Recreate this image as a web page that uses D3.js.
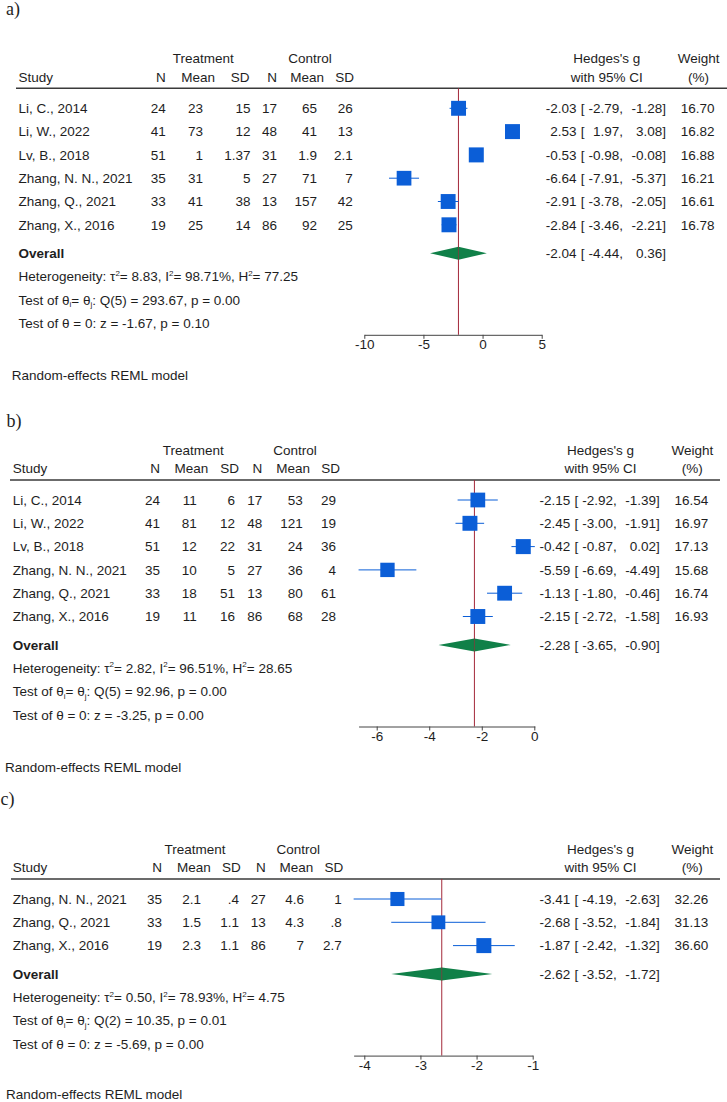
<!DOCTYPE html>
<html>
<head>
<meta charset="utf-8">
<script src="https://cdn.jsdelivr.net/npm/d3@7/dist/d3.min.js"></script>
<style>
  body { margin: 0; background: #fff; }
  text { font-family: "Liberation Sans", Arial, sans-serif; fill: #1e1e1e; }
</style>
</head>
<body>
<svg width="727" height="1102"></svg>
<script>
// ---- panel a) data ----
const studiesA = ["Li, C., 2014", "Li, W., 2022", "Lv, B., 2018", "Zhang, N. N., 2021", "Zhang, Q., 2021", "Zhang, X., 2016"];
const trtNA   = [24, 41, 51, 35, 33, 19];
const trtMeanA = [23, 73, 1, 31, 41, 25];
const trtSdA  = [15, 12, 1.37, 5, 38, 14];
const ctlNA   = [17, 48, 31, 27, 13, 86];
const ctlMeanA = [65, 41, 1.9, 71, 157, 92];
const ctlSdA  = [26, 13, 2.1, 7, 42, 25];
const gA  = [-2.03, 2.53, -0.53, -6.64, -2.91, -2.84];
const loA = [-2.79, 1.97, -0.98, -7.91, -3.78, -3.46];
const hiA = [-1.28, 3.08, -0.08, -5.37, -2.05, -2.21];
const wA  = [16.70, 16.82, 16.88, 16.21, 16.61, 16.78];

// ---- panel b) data ----
const studiesB = ["Li, C., 2014", "Li, W., 2022", "Lv, B., 2018", "Zhang, N. N., 2021", "Zhang, Q., 2021", "Zhang, X., 2016"];
const trtNB   = [24, 41, 51, 35, 33, 19];
const trtMeanB = [11, 81, 12, 10, 18, 11];
const trtSdB  = [6, 12, 22, 5, 51, 16];
const ctlNB   = [17, 48, 31, 27, 13, 86];
const ctlMeanB = [53, 121, 24, 36, 80, 68];
const ctlSdB  = [29, 19, 36, 4, 61, 28];
const gB  = [-2.15, -2.45, -0.42, -5.59, -1.13, -2.15];
const loB = [-2.92, -3.00, -0.87, -6.69, -1.80, -2.72];
const hiB = [-1.39, -1.91, 0.02, -4.49, -0.46, -1.58];
const wB  = [16.54, 16.97, 17.13, 15.68, 16.74, 16.93];

// ---- panel c) data ----
const studiesC = ["Zhang, N. N., 2021", "Zhang, Q., 2021", "Zhang, X., 2016"];
const trtNC   = [35, 33, 19];
const trtMeanC = [2.1, 1.5, 2.3];
const trtSdC  = [0.4, 1.1, 1.1];
const ctlNC   = [27, 13, 86];
const ctlMeanC = [4.6, 4.3, 7];
const ctlSdC  = [1, 0.8, 2.7];
const gC  = [-3.41, -2.68, -1.87];
const loC = [-4.19, -3.52, -2.42];
const hiC = [-2.63, -1.84, -1.32];
const wC  = [32.26, 31.13, 36.60];

// ---- overall / heterogeneity (a, b, c) ----
const panelLabels = ["a)", "b)", "c)"];
const overallG  = [-2.04, -2.28, -2.62];
const overallLo = [-4.44, -3.65, -3.52];
const overallHi = [0.36, -0.90, -1.72];
const tau2 = [8.83, 2.82, 0.50];
const iSq  = [98.71, 96.51, 78.93];
const hSq  = [77.25, 28.65, 4.75];
const qStat = [293.67, 92.96, 10.35];
const qDf   = [5, 5, 2];
const qP    = [0.00, 0.00, 0.01];
const zStat = [-1.67, -3.25, -5.69];
const zP    = [0.10, 0.00, 0.00];
const axisTicks = [[-10, -5, 0, 5], [-6, -4, -2, 0], [-4, -3, -2, -1]];

const FS = 13.5;
const BLUE = "#0b5ed7", GREEN = "#108048", RED = "#a3283a";
const svg = d3.select("svg");

// stata style number: .4 instead of 0.4
const fmtNum = v => String(v).replace(/^0\./, ".");
const f2 = v => v.toFixed(2);

function txt(g, x, y, s, anchor, extra) {
  const t = g.append("text").attr("x", x).attr("y", y).attr("dy", "0.35em")
    .attr("font-size", FS).attr("text-anchor", anchor || "start").text(s);
  if (extra) extra(t);
  return t;
}

// parts: [string, "sup"|"sub"|null]; every tspan gets an absolute baseline
function richTxt(g, x, y, parts) {
  const base = y + 0.35 * FS;
  const t = g.append("text").attr("x", x).attr("y", base).attr("font-size", FS);
  parts.forEach(([s, kind]) => {
    const ts = t.append("tspan").text(s);
    if (kind == "sup") ts.attr("y", base - 5.5).attr("font-size", 8);
    else if (kind == "sub") ts.attr("y", base + 2.5).attr("font-size", 8);
    else ts.attr("y", base);
  });
}

function drawPanel(k, rows, L) {
  const g = svg.append("g");
  const hl = L.hl;

  g.append("text").attr("x", L.labX).attr("y", L.labY).attr("dy", "0.35em")
    .attr("font-size", 18).style("font-family", "'Liberation Serif', 'Times New Roman', serif")
    .text(panelLabels[k]);

  // headers
  txt(g, L.trtC, hl - 30, "Treatment", "middle");
  txt(g, L.ctlC, hl - 30, "Control", "middle");
  txt(g, L.studyX, hl - 11.5, "Study");
  const hdrs = ["N", "Mean", "SD", "N", "Mean", "SD"];
  hdrs.forEach((h, i) => txt(g, L.hdrR[i], hl - 11.5, h, "end"));
  txt(g, L.ox + 600.5, hl - 30, "Hedges's g", "middle");
  txt(g, L.ox + 600.5, hl - 11.5, "with 95% CI", "middle");
  txt(g, L.ox + 692.3, hl - 30, "Weight", "middle");
  txt(g, L.ox + 692.3, hl - 11.5, "(%)", "middle");
  g.append("line").attr("x1", L.lineX0).attr("x2", L.lineX1).attr("y1", hl).attr("y2", hl)
    .attr("stroke", "#3a3a3a").attr("stroke-width", 1.4);

  const rowY = i => hl + 20 + i * 23.3;
  const nRows = rows.study.length;
  const overallY = rowY(nRows - 1) + 28.4;
  const hetY = overallY + 23.3;
  const axisY = hetY + 2 * 23.3 + 11.7;

  // x scale from tick range
  const ticks = axisTicks[k];
  const x = d3.scaleLinear().domain([ticks[0], ticks[ticks.length - 1]]).range(L.xRange);
  const lo = Math.min(ticks[0], d3.min(rows.lo));
  const hi = Math.max(ticks[ticks.length - 1], d3.max(rows.hi));
  const xAxisScale = d3.scaleLinear().domain([lo, hi]).range([x(lo), x(hi)]);

  // overall line
  g.append("line").attr("x1", x(overallG[k])).attr("x2", x(overallG[k]))
    .attr("y1", hl).attr("y2", axisY).attr("stroke", RED).attr("stroke-width", 1);

  const cols = [rows.tn, rows.tm, rows.ts, rows.cn, rows.cm, rows.cs];
  const wMax = d3.max(rows.w);
  rows.study.forEach((s, i) => {
    const y = rowY(i);
    txt(g, L.studyX, y, s);
    cols.forEach((c, j) => txt(g, L.colR[j], y, fmtNum(c[i]), "end"));
    // effect text
    txt(g, L.ox + 570.3, y, f2(rows.g[i]), "end");
    txt(g, L.ox + 574.5, y, "[");
    txt(g, L.ox + 616.7, y, f2(rows.lo[i]) + ",", "end");
    txt(g, L.ox + 659.7, y, f2(rows.hi[i]) + "]", "end");
    txt(g, L.ox + 708.3, y, f2(rows.w[i]), "end");
    // CI and box
    g.append("line").attr("x1", x(rows.lo[i])).attr("x2", x(rows.hi[i]))
      .attr("y1", y).attr("y2", y).attr("stroke", BLUE).attr("stroke-width", 1);
    const sz = 15 * Math.sqrt(rows.w[i] / wMax);
    g.append("rect").attr("x", x(rows.g[i]) - sz / 2).attr("y", y - sz / 2)
      .attr("width", sz).attr("height", sz).attr("fill", BLUE);
  });

  // overall
  txt(g, L.studyX, overallY, "Overall", "start", t => t.attr("font-weight", "bold"));
  const dh = 6.5;
  g.append("polygon").attr("fill", GREEN).attr("points", [
    [x(overallLo[k]), overallY], [x(overallG[k]), overallY - dh],
    [x(overallHi[k]), overallY], [x(overallG[k]), overallY + dh]].map(p => p.join(",")).join(" "));
  g.append("line").attr("x1", x(overallG[k])).attr("x2", x(overallG[k]))
    .attr("y1", overallY - dh).attr("y2", overallY + dh).attr("stroke", RED).attr("stroke-width", 1).attr("opacity", 0.6);
  txt(g, L.ox + 570.3, overallY, f2(overallG[k]), "end");
  txt(g, L.ox + 574.5, overallY, "[");
  txt(g, L.ox + 616.7, overallY, f2(overallLo[k]) + ",", "end");
  txt(g, L.ox + 659.7, overallY, f2(overallHi[k]) + "]", "end");

  richTxt(g, L.studyX, hetY, [["Heterogeneity: \u03c4"], ["2", "sup"], ["= " + f2(tau2[k]) + ", I"], ["2", "sup"],
    ["= " + f2(iSq[k]) + "%, H"], ["2", "sup"], ["= " + f2(hSq[k])]]);
  richTxt(g, L.studyX, hetY + 23.3, [["Test of \u03b8"], ["i", "sub"], ["= \u03b8"], ["j", "sub"],
    [": Q(" + qDf[k] + ") = " + f2(qStat[k]) + ", p = " + f2(qP[k])]]);
  txt(g, L.studyX, hetY + 46.6, "Test of \u03b8 = 0: z = " + f2(zStat[k]) + ", p = " + f2(zP[k]));

  // axis
  const ax = g.append("g").attr("transform", `translate(0,${axisY})`)
    .call(d3.axisBottom(xAxisScale).tickValues(ticks).tickSize(4).tickSizeOuter(0).tickFormat(d => String(d)));
  ax.select(".domain").attr("stroke", "#444");
  ax.selectAll(".tick line").attr("stroke", "#444");
  ax.selectAll(".tick text").attr("font-size", FS).attr("font-family", "'Liberation Sans', Arial, sans-serif")
    .attr("fill", "#1e1e1e").attr("y", 5);

  txt(g, L.reX, Math.min(axisY + 40.5, 1094), "Random-effects REML model");
}

drawPanel(0, { study: studiesA, tn: trtNA, tm: trtMeanA, ts: trtSdA, cn: ctlNA, cm: ctlMeanA, cs: ctlSdA,
  g: gA, lo: loA, hi: hiA, w: wA }, {
  hl: 88.3, labX: 6, labY: 8.5, studyX: 18.5, trtC: 203.3, ctlC: 310,
  colR: [165.7, 203, 250.5, 277, 317, 352.7], hdrR: [165.7, 215, 249.5, 277, 324, 354],
  ox: 6.3, lineX0: 16, lineX1: 727, xRange: [364.3, 541.7], reX: 11.7 });

drawPanel(1, { study: studiesB, tn: trtNB, tm: trtMeanB, ts: trtSdB, cn: ctlNB, cm: ctlMeanB, cs: ctlSdB,
  g: gB, lo: loB, hi: hiB, w: wB }, {
  hl: 480, labX: 6.5, labY: 421, studyX: 12.7, trtC: 193.3, ctlC: 295,
  colR: [160, 196.7, 235, 262.3, 302.7, 336], hdrR: [160, 208.3, 239, 262.3, 310, 340],
  ox: 0, lineX0: 10, lineX1: 720, xRange: [376.7, 534.3], reX: 5 });

drawPanel(2, { study: studiesC, tn: trtNC, tm: trtMeanC, ts: trtSdC, cn: ctlNC, cm: ctlMeanC, cs: ctlSdC,
  g: gC, lo: loC, hi: hiC, w: wC }, {
  hl: 879, labX: 0.5, labY: 799, studyX: 12.7, trtC: 195, ctlC: 298.3,
  colR: [162, 201, 239, 265.7, 304, 341.7], hdrR: [162, 210.7, 240.7, 265.7, 313.3, 343.3],
  ox: 0, lineX0: 11, lineX1: 720, xRange: [364.3, 532.7], reX: 6 });
</script>
</body>
</html>
